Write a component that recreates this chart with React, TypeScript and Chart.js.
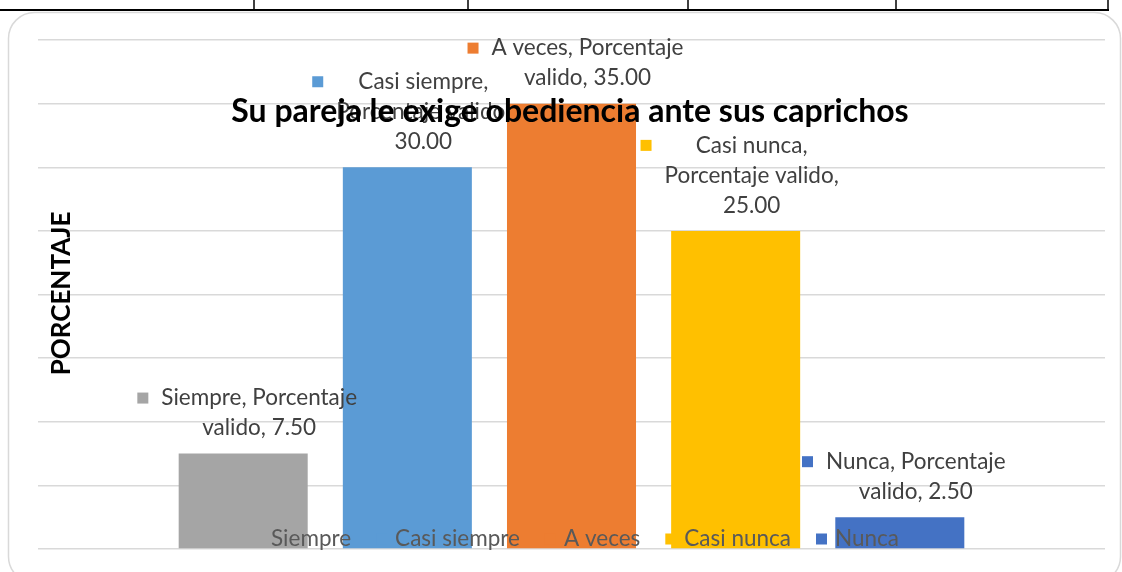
import React, { useEffect, useRef } from 'react';
import { Chart, registerables } from 'chart.js';

Chart.register(...registerables);

// ---- data ----
const categories = ['Siempre', 'Casi siempre', 'A veces', 'Casi nunca', 'Nunca'];
const seriesName = 'Porcentaje valido';
const values = [7.5, 30, 35, 25, 2.5];
const barColors = ['#A5A5A5', '#5B9BD5', '#ED7D31', '#FFC000', '#4472C4'];
const yMin = 0;
const yMax = 40;
const yStep = 5;
const chartTitle = 'Su pareja le exige obediencia ante sus caprichos';
const yAxisTitle = 'PORCENTAJE';

const FONT = 'Lato, "Noto Sans", sans-serif';
const LABEL_SIZE = 22.5;
const TITLE_SIZE = 32;
const YTITLE_SIZE = 26;

function wrapText(ctx: CanvasRenderingContext2D, text: string, maxW: number): string[] {
  const words = text.split(' ');
  const lines: string[] = [];
  let cur = '';
  for (const w of words) {
    const test = cur ? cur + ' ' + w : w;
    if (cur && ctx.measureText(test).width > maxW) {
      lines.push(cur);
      cur = w;
    } else {
      cur = test;
    }
  }
  if (cur) lines.push(cur);
  return lines;
}

const framePlugin = {
  id: 'frame',
  beforeDraw(chart: any) {
    const ctx: CanvasRenderingContext2D = chart.ctx;
    ctx.save();
    ctx.fillStyle = '#ffffff';
    ctx.fillRect(0, 0, chart.width, chart.height);
    // table remnants at top
    ctx.strokeStyle = '#000000';
    ctx.lineWidth = 2;
    ctx.beginPath();
    ctx.moveTo(0, 10);
    ctx.lineTo(1109, 10);
    ctx.stroke();
    ctx.lineWidth = 1.5;
    [254, 468, 688, 896, 1108].forEach((x) => {
      ctx.beginPath();
      ctx.moveTo(x, 0);
      ctx.lineTo(x, 10);
      ctx.stroke();
    });
    // rounded chart border
    ctx.strokeStyle = '#d9d9d9';
    ctx.lineWidth = 1.5;
    ctx.beginPath();
    (ctx as any).roundRect(8.5, 12.5, 1112, 570, 26);
    ctx.stroke();
    ctx.restore();
  },
};

const overlayPlugin = {
  id: 'overlay',
  afterDraw(chart: any) {
    const ctx: CanvasRenderingContext2D = chart.ctx;
    const area = chart.chartArea;
    const meta = chart.getDatasetMeta(0);
    ctx.save();

    // y axis title
    ctx.save();
    ctx.translate(62, (area.top + area.bottom) / 2 - 1);
    ctx.rotate(-Math.PI / 2);
    ctx.font = `bold ${YTITLE_SIZE}px ${FONT}`;
    ctx.fillStyle = '#000000';
    ctx.textAlign = 'center';
    ctx.textBaseline = 'middle';
    ctx.fillText(yAxisTitle, 0, 0);
    ctx.restore();

    // data labels
    ctx.font = `${LABEL_SIZE}px ${FONT}`;
    ctx.textBaseline = 'middle';
    const lineH = 30;
    const mk = 11;
    const gap = 13;
    meta.data.forEach((el: any, i: number) => {
      const txt = `${categories[i]}, ${seriesName}, ${values[i].toFixed(2)}`;
      const lines = wrapText(ctx, txt, 205);
      const maxW = Math.max(...lines.map((l) => ctx.measureText(l).width));
      const boxW = mk + gap + maxW;
      const boxLeft = el.x + 4 - boxW / 2;
      const textCenter = boxLeft + mk + gap + maxW / 2;
      const lastY = el.y - 25.5;
      const firstY = lastY - (lines.length - 1) * lineH;
      ctx.fillStyle = barColors[i];
      ctx.fillRect(boxLeft, firstY - mk / 2, mk, mk);
      ctx.fillStyle = '#404040';
      ctx.textAlign = 'center';
      lines.forEach((l, k) => ctx.fillText(l, textCenter, firstY + k * lineH));
    });

    // legend overlaid at bottom
    ctx.font = `${LABEL_SIZE}px ${FONT}`;
    const itemGap = 25;
    const mGap = 8;
    const widths = categories.map((c) => mk + mGap + ctx.measureText(c).width);
    const total = widths.reduce((a, b) => a + b, 0) + itemGap * (categories.length - 1);
    let x = (area.left + area.right) / 2 + 4 - total / 2;
    const ly = area.bottom - 10;
    categories.forEach((c, i) => {
      ctx.fillStyle = barColors[i];
      ctx.fillRect(x, ly - mk / 2, mk, mk);
      ctx.fillStyle = '#595959';
      ctx.textAlign = 'left';
      ctx.fillText(c, x + mk + mGap, ly);
      x += widths[i] + itemGap;
    });

    // chart title
    ctx.font = `bold ${TITLE_SIZE}px ${FONT}`;
    ctx.fillStyle = '#000000';
    ctx.textAlign = 'center';
    ctx.textBaseline = 'middle';
    ctx.fillText(chartTitle, 570, 112);

    ctx.restore();
  },
};

export default function App() {
  const canvasRef = useRef<HTMLCanvasElement | null>(null);

  useEffect(() => {
    if (!canvasRef.current) return;
    const chart = new Chart(canvasRef.current, {
      type: 'bar',
      data: {
        datasets: [
          {
            label: seriesName,
            data: values.map((v, i) => ({ x: i, y: v })),
            backgroundColor: barColors,
            borderWidth: 0,
            barPercentage: 0.786,
            categoryPercentage: 1,
          },
        ],
      },
      options: {
        animation: false,
        responsive: false,
        layout: { padding: { left: 38, right: 17, top: 40, bottom: 23 } },
        plugins: {
          legend: { display: false },
          title: { display: false },
          tooltip: { enabled: false },
        },
        scales: {
          x: {
            type: 'linear',
            min: -1.25,
            max: 5.25,
            offset: false,
            display: false,
          },
          y: {
            min: yMin,
            max: yMax,
            ticks: { stepSize: yStep, display: false },
            grid: { color: '#d9d9d9', lineWidth: 1.5, drawTicks: false },
            border: { display: false },
            afterFit: (scale: any) => {
              scale.width = 0;
            },
          },
        },
      },
      plugins: [framePlugin, overlayPlugin],
    });
    return () => chart.destroy();
  }, []);

  return (
    <div style={{ position: 'absolute', left: 0, top: 0, width: 1122, height: 572 }}>
      <canvas ref={canvasRef} width={1122} height={572} style={{ display: 'block' }} />
    </div>
  );
}
